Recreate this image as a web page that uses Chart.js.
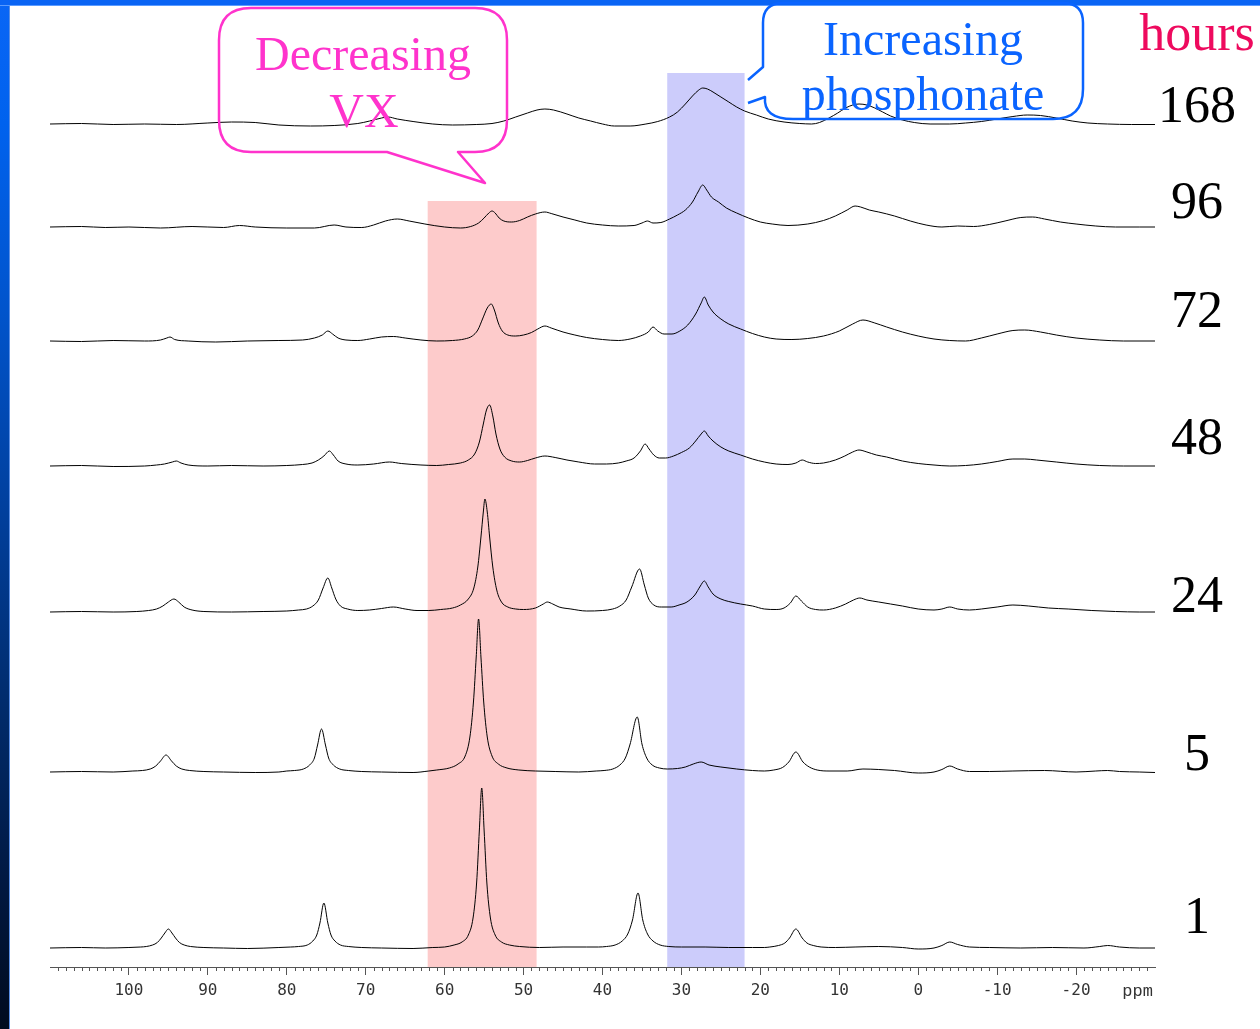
<!DOCTYPE html>
<html>
<head>
<meta charset="utf-8">
<script src="https://cdn.jsdelivr.net/npm/chart.js@4.4.1/dist/chart.umd.min.js"></script>
<style>
  html, body { margin: 0; padding: 0; background: #fff; }
  #wrap { position: relative; width: 1260px; height: 1029px; overflow: hidden; background: #fff; }
  #stripe { position: absolute; left: 0; top: 0; width: 9px; height: 1029px;
    background: linear-gradient(to bottom, #0a66f6 0%, #0062ee 12%, #0054cc 30%, #003f9c 50%, #002a68 70%, #00163c 88%, #000b1e 100%);
    border-right: 1px solid #5a8fe6; }
  #topbar { position: absolute; left: 0; top: 0; width: 1260px; height: 5px; background: #0a64f4;
    border-bottom: 1px solid #5b9bff; }
  #c { position: absolute; left: 0; top: 0; }
</style>
</head>
<body>
<div id="wrap">
  <div id="stripe"></div>
  <div id="topbar"></div>
  <canvas id="c" width="1260" height="1029"></canvas>
</div>
<script>
// 31P spectra, one trace per time point: [ppm, intensity above own baseline]
const hoursLabels = ['1', '5', '24', '48', '72', '96', '168'];
const stackOffsets = [19, 195, 355, 501, 626, 740, 843];

const spec1h = [
  [110,0],[106,0.5],[103,0],[100,0.5],[98.5,1],[97.8,1.5],[97,3],[96.4,5.5],[95.9,10],[95.45,15],[95.0,19],[94.55,15],[94.1,10],[93.6,5.5],[93,3],[92.2,1.5],[90.5,0.5],[88,0],[85,-0.5],[81,0.5],
  [79.5,1],[78.5,1.5],[77.4,3],[76.7,7],[76.2,13],[75.8,25],[75.3,45],[74.8,25],[74.4,13],[73.9,7],[73.2,3],[72.2,1.5],[70.5,0.5],[68,0],[64,-0.5],[61.5,0.5],
  [60,1],[58.8,3],[57.8,6],[57,13],[56.4,30],[55.95,65],[55.6,118],[55.3,160],[55.0,118],[54.65,65],[54.2,30],[53.6,13],[52.8,6],[51.8,3],[50.5,1.5],[48,0.5],[45,1],[42,1],[40.5,1],
  [39.5,1.5],[38.4,3],[37.5,7],[36.8,14],[36.2,28],[35.5,55],[34.9,28],[34.3,14],[33.6,7],[32.7,3],[31.6,1.5],[30,1],[27,1],[24,0.5],[21,0.5],
  [19.5,0.5],[18.8,1],[17.7,2.5],[16.9,5],[16.3,10],[15.5,19],[14.7,10],[14.1,5],[13.3,2.5],[12.3,1],[10.5,0.5],[8,1],[5,1.5],[2,0.5],[0,-1],
  [-2,0],[-3,2.5],[-4,6],[-5,3.5],[-6.5,1],[-9,0.5],[-13,0],[-17,0.5],[-21,0],[-23,1.5],[-24,2.5],[-25.5,1],[-28,0],[-30,0]
];
const spec5h = [
  [110,0],[106,0.5],[102,0],[99.5,1],[98.3,1.5],[97.3,3],[96.6,6],[96,11],[95.3,17],[94.6,11],[94,6],[93.3,3],[92.3,1.5],[90.5,0.5],[88,0],[84,-0.5],[81,0],
  [80,1],[79,1.5],[77.9,3],[77.1,7],[76.5,14],[76.1,27],[75.6,43],[75.1,27],[74.7,14],[74.1,7],[73.3,3],[72.2,1.5],[70.5,0.5],[68,0],[64,-0.5],
  [62,1],[61,2],[59.4,4],[58.3,8],[57.4,16],[56.8,35],[56.35,70],[56.0,115],[55.7,153],[55.4,115],[55.05,70],[54.6,35],[54.0,16],[53.2,8],[52.1,4],[50.6,2],[48.5,1],[46,0.5],[43,0],
  [40.8,1],[39.8,1.5],[38.7,3],[37.8,7],[37.1,14],[36.5,28],[35.6,55],[35.0,28],[34.4,14],[33.7,7],[32.8,4],[31.8,3],[30.5,3.5],[29.5,5],[28.5,8],[27.5,10],[26.5,7],[25,5],[23,3],[21,1.5],
  [19.5,1],[18.3,2],[17.2,4.5],[16.4,10],[15.5,20],[14.6,10],[13.8,5],[12.8,2],[11.3,1],[9,1],[7,3],[5,2.5],[3,1.5],[0,-1],
  [-2,0],[-3,2.5],[-4,6],[-5,3],[-6.5,0.5],[-9,0.5],[-12,1],[-16,1.5],[-20,0],[-22.5,1],[-24,1.5],[-25.5,0.5],[-28,0],[-30,-0.5]
];
const spec24h = [
  [110,0],[106,0.5],[102,0],[99,0.5],[97.5,1.5],[96.5,3],[95.7,6],[95,10],[94.3,13],[93.7,10],[93,5],[92,2],[90.5,0.5],[87,0],[83,0.5],[80,1],
  [78.5,2],[77.5,3],[76.7,6],[76,12],[75.4,24],[74.8,34],[74.3,24],[73.8,13],[73.2,6],[72.3,3],[71,1.5],[69.5,2],[68,3.5],[66.5,5],[65,3],[63.5,1.5],[62,1.5],
  [60.5,2.5],[59,4],[58,7],[57,13],[56.3,24],[55.8,45],[55.4,75],[55.1,100],[54.9,113],[54.6,100],[54.3,75],[53.9,45],[53.4,22],[52.8,10],[52,5],[51,3],[50,2.5],
  [48.5,4],[47.5,8],[47,10],[46.3,8],[45.5,5],[44,3],[42,1],[40,1.5],
  [38.7,3],[37.8,6],[37,12],[36.3,25],[35.3,43],[34.7,27],[34.2,14],[33.5,7],[32.5,5],[31.3,5],[30.3,7],[29.3,10],[28.3,17],[27.6,26],[27.1,31],[26.6,25],[26,18],[25,13],[24,10.5],[22.5,8],[21,6],[19.5,3],
  [18,2.5],[17,4],[16.2,9],[15.5,16],[14.8,11],[14,5],[13,2.5],[12,2],[10.5,4],[9.2,8],[8.2,12],[7.4,14],[6.5,12],[5,10],[3.5,8],[2,6],[0,3],
  [-2,2],[-3,3],[-4,5],[-5,3],[-6.5,2],[-8,3],[-10,5],[-12,7],[-14,6],[-16.5,4],[-19,3],[-22,1.5],[-25,0.5],[-28,0],[-30,0]
];
const spec48h = [
  [110,0],[106,0.5],[102,-0.5],[98,0],[96.5,1],[95.5,2],[94.5,4],[94,5],[93.4,3],[92.5,1],[90,0],[87,0.5],[83,0],[80,0.5],
  [78,1.5],[76.8,3],[76,6],[75.3,10],[74.6,15],[74.1,11],[73.5,5],[72.5,2],[71,1],[69,2],[67,4],[65.5,2.5],[63,1],[61,0.5],
  [59.5,1.5],[58,3],[57,6],[56.2,12],[55.6,24],[55.1,42],[54.7,56],[54.3,61],[53.9,50],[53.5,32],[53,17],[52.4,9],[51.5,5],[50.5,4],
  [49.5,5.5],[48.5,8],[47.3,10],[46,8.5],[44.5,6],[43,4],[41,2],[39.5,2],
  [38,3],[37,5],[36,8],[35.2,15],[34.6,22],[34.1,17],[33.5,11],[32.8,8],[32,8],[31,10],[30,13.5],[29,18],[28.2,25],[27.5,32],[27.1,35],[26.6,30],[26,25],[25,19],[24,15],[22.5,11],[21,7],[19.5,4],
  [18,2],[16.5,1.5],[15.5,3],[14.7,6],[14,4],[13,2.5],[12,3],[10.5,6],[9.3,10],[8.3,14],[7.5,16],[6.5,14],[5.3,11],[4,9],[2,5],[0,2.5],
  [-2,1],[-4,0],[-6,0.5],[-8,2],[-10,4.5],[-12,7],[-13.5,7],[-15,6],[-17.5,4],[-20,2],[-23,0.5],[-26,0],[-30,0]
];
const spec72h = [
  [110,0],[106,-0.5],[102,0.5],[98,0],[96,1],[95.2,3],[94.8,4],[94.2,1.5],[92.5,0],[89,-1],[85,0],[81,0.5],
  [78,1],[76.5,3],[75.5,6],[74.8,10],[74.2,7],[73.5,3],[72.5,1],[71,0.5],[69.5,2],[68,4],[66.5,4.5],[65,3],[63,1],[61,0],
  [59,0.5],[57.5,2],[56.5,5],[55.8,11],[55.2,22],[54.6,33],[54.1,37],[53.7,31],[53.2,18],[52.7,10],[52,6],[51,5],
  [50,6],[49,8.5],[48.2,12],[47.3,15],[46.5,13],[45,9],[43.5,6],[42,3.5],[40,1.5],[38,0.5],
  [36.5,2],[35.2,5],[34.2,9],[33.6,14],[33,10],[32.2,7],[31.2,7],[30.2,10],[29.2,16],[28.2,27],[27.5,38],[27.1,44],[26.6,36],[26,29],[25,22],[24,17],[22.5,12],[21,7.5],[19.5,4],
  [18,2],[16,1.5],[14,2.5],[12,5],[10,10],[8.3,17],[7,21],[5.5,18],[4,14],[2,9],[0,5],
  [-2,2],[-4,0.5],[-6,0],[-8,3],[-10,7],[-12,10.5],[-13.5,11],[-15.5,9],[-17.5,6],[-20,3],[-23,1],[-26,0],[-30,0]
];
const spec96h = [
  [110,0],[106,0.5],[103,-0.5],[100,0],[96,-1],[92,0.5],[88,-0.5],[86,1.5],[84,0],[80,-1],[76.5,-1],[74,2],[72.5,0],[70.5,-0.5],
  [69,2],[67.5,6],[66,8],[64.5,6],[62.5,3],[60,0],[58,-1],[56.7,0.5],[55.7,4],[55,9],[54.4,14],[54,16],[53.6,14],[53.1,9],[52.5,6],[51.5,5],
  [50.5,6.5],[49.5,10],[48.5,13],[47.3,15],[46.5,13.5],[45,10],[43.5,7],[42,4],[40,2],[38,1],
  [36,1.5],[35,4],[34.3,6],[33.6,4],[32.6,4.5],[31.5,8],[30.5,12],[29.5,17],[28.6,25],[27.9,35],[27.3,42],[26.8,37],[26.2,30],[25.3,25],[24.3,19],[23,14],[21.5,9],[20,5],
  [18.5,3],[16.5,1.5],[14,3],[12,6.5],[10.5,11],[9,17],[8,21],[7.3,20],[6.2,17],[5,15],[3,11],[1,6],
  [-1,2],[-3,0],[-5,1],[-7,0.5],[-9,2.5],[-11,6],[-13,9.5],[-14.5,10],[-16,8],[-18,5],[-20,3],[-22.5,1],[-25,0],[-28,0],[-30,0]
];
const spec168h = [
  [110,0],[106,0.5],[102,-0.5],[98,0],[94,-0.5],[90,1],[87,2],[84,1.5],[81,-1],[77,-2],[74,-1.5],[71,0.5],
  [69.5,3],[68,6],[67.2,7],[66,5],[64,2.5],[61.5,0],[59,-1],[56,-0.5],[54,0.5],
  [52.5,3],[51,7],[49.5,11],[48.3,14],[47.3,15],[46.2,14],[44.5,10],[43,6],[41.5,3],[40,0],[38.5,-2],[36.5,-2],
  [34.5,0],[33,2.5],[31.5,7],[30.5,12],[29.5,20],[28.6,28],[27.8,34],[27.3,36],[26.7,35],[26,32],[25,27],[24,22],[23,17],[22,13],[20.5,9],[19,5],
  [17,2],[15,0.5],[13.5,0],[12.5,1.5],[11.3,6],[10.2,11],[9.2,16],[8.3,19],[7.5,20],[6.5,19],[5.5,16],[4.5,12],[3.5,8],[2,4],[0.5,1.5],
  [-1.5,0],[-4,0],[-6,1],[-8,2.5],[-10,5],[-12,7.5],[-13.8,9],[-15.5,8.5],[-17.5,6],[-19.5,3],[-21.5,1],[-24,0],[-27,-0.5],[-30,-0.5]
];
const spectra = [spec1h, spec5h, spec24h, spec48h, spec72h, spec96h, spec168h];

// ppm window, major axis labels, "ppm" unit label position
const ppmMin = -30;
const ppmMax = 110;
const majorTicks = [100, 90, 80, 70, 60, 50, 40, 30, 20, 10, 0, -10, -20];
const unitTickPos = -27.8;

// highlighted regions: [from ppm, to ppm], and how high each reaches (stack units)
const vxBand = [62.15, 48.35];
const phosphonateBand = [31.8, 22.0];
const bandTops = [766, 894];

const datasets = spectra.map((spec, i) => ({
  label: hoursLabels[i] + ' h',
  data: spec.map(([x, y]) => ({ x: x, y: y + stackOffsets[i] })),
  borderColor: '#000',
  borderWidth: 1,
  pointRadius: 0,
  fill: false,
  tension: 0.4,
  cubicInterpolationMode: 'monotone'
}));

const decor = {
  id: 'decor',
  beforeDatasetsDraw(chart) {
    const { ctx } = chart;
    const xs = chart.scales.x, ys = chart.scales.y;
    const base = ys.getPixelForValue(0);
    [[vxBand, '#fdcbcb'], [phosphonateBand, '#ccccfb']].forEach(([band, color], i) => {
      const x1 = xs.getPixelForValue(band[0]);
      const x2 = xs.getPixelForValue(band[1]);
      const top = ys.getPixelForValue(bandTops[i]);
      ctx.save();
      ctx.fillStyle = color;
      ctx.fillRect(Math.min(x1, x2), top, Math.abs(x2 - x1), base - top);
      ctx.restore();
    });
  },
  afterDraw(chart) {
    const { ctx } = chart;
    const xs = chart.scales.x;
    const bottom = chart.chartArea.bottom;

    // minor ticks every 1 ppm
    ctx.save();
    ctx.strokeStyle = '#555';
    ctx.lineWidth = 1;
    ctx.beginPath();
    for (let v = ppmMin + 1; v < ppmMax; v++) {
      if (v % 10 === 0) continue;
      const px = Math.round(xs.getPixelForValue(v)) + 0.5;
      ctx.moveTo(px, bottom);
      ctx.lineTo(px, bottom + 4);
    }
    ctx.stroke();
    ctx.restore();

    // time labels at the right
    ctx.save();
    ctx.textAlign = 'center';
    ctx.textBaseline = 'alphabetic';
    ctx.font = '52px "Liberation Serif", "Times New Roman", serif';
    ctx.fillStyle = '#ee0a5e';
    ctx.fillText('hours', 1197, 50);
    ctx.fillStyle = '#000';
    const labelBaselines = [933, 770, 612, 454, 327, 218, 122];
    hoursLabels.forEach((h, i) => ctx.fillText(h, 1197, labelBaselines[i]));
    ctx.restore();

    // callout: Decreasing VX
    ctx.save();
    ctx.lineWidth = 2.5;
    ctx.lineJoin = 'round';
    ctx.strokeStyle = '#ff33cc';
    let L = 219, T = 8, R = 507, B = 152, r = 32;
    ctx.beginPath();
    ctx.moveTo(L + r, T);
    ctx.lineTo(R - r, T);
    ctx.quadraticCurveTo(R, T, R, T + r);
    ctx.lineTo(R, B - r);
    ctx.quadraticCurveTo(R, B, R - r, B);
    ctx.lineTo(458, B);
    ctx.lineTo(485, 183);
    ctx.lineTo(387, B);
    ctx.lineTo(L + r, B);
    ctx.quadraticCurveTo(L, B, L, B - r);
    ctx.lineTo(L, T + r);
    ctx.quadraticCurveTo(L, T, L + r, T);
    ctx.closePath();
    ctx.stroke();
    ctx.fillStyle = '#ff33cc';
    ctx.textAlign = 'center';
    ctx.font = '48px "Liberation Serif", "Times New Roman", serif';
    ctx.fillText('Decreasing', 363, 70);
    ctx.fillText('VX', 364, 127);

    // callout: Increasing phosphonate
    ctx.strokeStyle = '#0a64ff';
    L = 763; T = 3; R = 1083; B = 119;
    const rt = 20, rb = 30;
    ctx.beginPath();
    ctx.moveTo(L + rt, T);
    ctx.lineTo(R - rt, T);
    ctx.quadraticCurveTo(R, T, R, T + rt);
    ctx.lineTo(R, B - rb);
    ctx.quadraticCurveTo(R, B, R - rb, B);
    ctx.lineTo(L + rb, B);
    ctx.quadraticCurveTo(L, B, L + 2, 97);
    ctx.lineTo(748, 103);
    ctx.moveTo(748, 80);
    ctx.lineTo(L, 67);
    ctx.lineTo(L, T + rt);
    ctx.quadraticCurveTo(L, T, L + rt, T);
    ctx.stroke();
    ctx.fillStyle = '#0a64ff';
    ctx.fillText('Increasing', 923, 55);
    ctx.fillText('phosphonate', 923, 110);
    ctx.restore();
  }
};

new Chart(document.getElementById('c'), {
  type: 'line',
  data: { datasets: datasets },
  options: {
    responsive: false,
    devicePixelRatio: 1,
    animation: false,
    layout: { padding: { left: 50, right: 105, top: 7, bottom: 12 } },
    plugins: { legend: { display: false }, tooltip: { enabled: false } },
    scales: {
      x: {
        type: 'linear',
        reverse: true,
        min: ppmMin,
        max: ppmMax,
        afterFit(scale) { scale.height = 50; },
        afterBuildTicks(scale) {
          scale.ticks = majorTicks.map(v => ({ value: v })).concat([{ value: unitTickPos }]);
        },
        border: { display: true, color: '#555', width: 1 },
        grid: {
          drawOnChartArea: false,
          drawTicks: true,
          tickLength: 8,
          color: '#555',
          tickColor: c => (c.tick && c.tick.value === unitTickPos) ? 'rgba(0,0,0,0)' : '#555'
        },
        ticks: {
          autoSkip: false,
          maxRotation: 0,
          padding: 6,
          color: '#333',
          font: c => (c.tick && c.tick.value === unitTickPos)
            ? { family: '"Liberation Mono", "Courier New", monospace', size: 17 }
            : { family: '"DejaVu Sans Mono", monospace', size: 16 },
          callback: v => v === unitTickPos ? 'ppm' : String(v)
        }
      },
      y: {
        type: 'linear',
        display: false,
        min: 0,
        max: 960
      }
    }
  },
  plugins: [decor]
});
</script>
</body>
</html>
